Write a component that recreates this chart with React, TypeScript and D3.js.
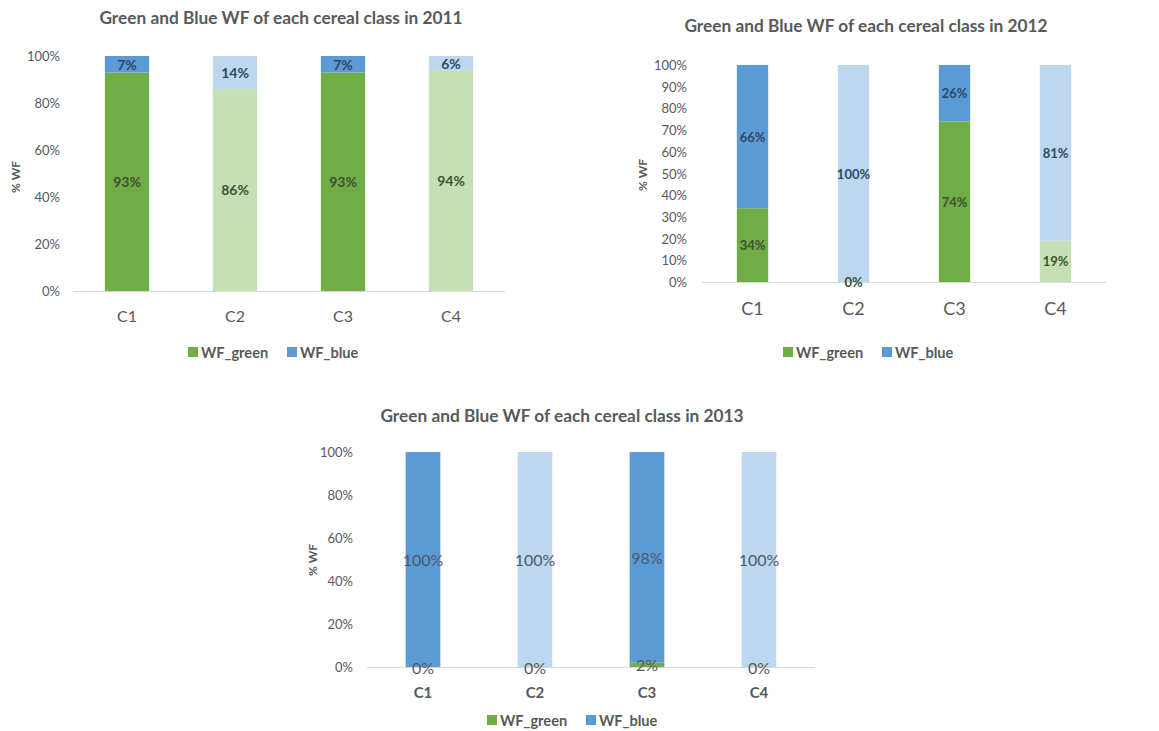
import React from "react";
import * as d3 from "d3";

// Cereal classes and water-footprint shares (percent) per year
const classes = ["C1", "C2", "C3", "C4"];
const green2011 = [93, 86, 93, 94];
const blue2011 = [7, 14, 7, 6];
const green2012 = [34, 0, 74, 19];
const blue2012 = [66, 100, 26, 81];
const green2013 = [0, 0, 2, 0];
const blue2013 = [100, 100, 98, 100];
const yTicks2011 = [0, 20, 40, 60, 80, 100];
const yTicks2012 = [0, 10, 20, 30, 40, 50, 60, 70, 80, 90, 100];
const yTicks2013 = [0, 20, 40, 60, 80, 100];
const seriesNames = ["WF_green", "WF_blue"];

const FONT = "Lato, 'Open Sans', sans-serif";
const TEXT = "#595959";
const GREEN_DARK = "#70AD47";
const GREEN_LIGHT = "#C5E0B4";
const BLUE_DARK = "#5B9BD5";
const BLUE_LIGHT = "#BDD7EE";
// odd classes use the darker shade, even ones the lighter
const greenShade = (i: number) => (i % 2 === 0 ? GREEN_DARK : GREEN_LIGHT);
const blueShade = (i: number) => (i % 2 === 0 ? BLUE_DARK : BLUE_LIGHT);

type Layout = {
  title: string;
  titleX: number;
  titleY: number;
  x0: number;
  x1: number;
  yTop: number;
  yBottom: number;
  padding: number;
  tickRight: number;
  xLabelY: number;
  xLabelSize: number;
  xLabelWeight: number;
  xLabelColor: string;
  legendX: number;
  legendY: number;
  yTitleX: number;
  yTitleY: number;
  labelSize: number;
  labelWeight: number;
  plainLabels: boolean;
};

function StackedChart({
  green,
  blue,
  ticks,
  L,
}: {
  green: number[];
  blue: number[];
  ticks: number[];
  L: Layout;
}) {
  const x = d3.scaleBand<string>().domain(classes).range([L.x0, L.x1]).paddingInner(L.padding).paddingOuter(L.padding / 2);
  const y = d3.scaleLinear().domain([0, 100]).range([L.yBottom, L.yTop]);
  const bw = x.bandwidth();
  const greenLabel = L.plainLabels ? "#595959" : "#3E5230";
  const blueLabel = L.plainLabels ? "#4a5a6a" : "#2E4766";

  return (
    <g>
      <text x={L.titleX} y={L.titleY} textAnchor="middle" dominantBaseline="central" fontFamily={FONT} fontWeight={700} fontSize={17.3} fill={TEXT}>
        {L.title}
      </text>
      {ticks.map((t) => (
        <text key={t} x={L.tickRight} y={y(t)} textAnchor="end" dominantBaseline="central" fontFamily={FONT} fontSize={13} fill={TEXT}>
          {t}%
        </text>
      ))}
      <text
        transform={`translate(${L.yTitleX},${L.yTitleY}) rotate(-90)`}
        textAnchor="middle"
        dominantBaseline="central"
        fontFamily={FONT}
        fontWeight={700}
        fontSize={12}
        fill={TEXT}
      >
        % WF
      </text>
      {classes.map((c, i) => {
        const bx = x(c) as number;
        const g = green[i];
        const b = blue[i];
        return (
          <g key={c}>
            <rect x={bx} y={y(g)} width={bw} height={y(0) - y(g)} fill={greenShade(i)} />
            <rect x={bx} y={y(g + b)} width={bw} height={y(g) - y(g + b)} fill={blueShade(i)} />
          </g>
        );
      })}
      <line x1={L.x0} x2={L.x1} y1={L.yBottom + 0.5} y2={L.yBottom + 0.5} stroke="#D9D9D9" strokeWidth={1.2} />
      {classes.map((c, i) => {
        const cx = (x(c) as number) + bw / 2;
        const g = green[i];
        const b = blue[i];
        const showGreen = g > 0 || L.plainLabels || b === 100;
        return (
          <g key={c} fontFamily={FONT} fontSize={L.labelSize} fontWeight={L.labelWeight} textAnchor="middle" dominantBaseline="central">
            {showGreen && (
              <text x={cx} y={y(g / 2)} fill={greenLabel}>
                {g}%
              </text>
            )}
            <text x={cx} y={y(g + b / 2)} fill={blueLabel}>
              {b}%
            </text>
            <text
              x={cx}
              y={L.xLabelY}
              fill={L.xLabelColor}
              fontSize={L.xLabelSize}
              fontWeight={L.xLabelWeight}
            >
              {c}
            </text>
          </g>
        );
      })}
      <g fontFamily={FONT} fontSize={14.6} fontWeight={700} fill={TEXT}>
        <rect x={L.legendX} y={L.legendY - 5} width={10} height={10} fill={GREEN_DARK} />
        <text x={L.legendX + 13} y={L.legendY} dominantBaseline="central">
          {seriesNames[0]}
        </text>
        <rect x={L.legendX + 99} y={L.legendY - 5} width={10} height={10} fill={BLUE_DARK} />
        <text x={L.legendX + 112} y={L.legendY} dominantBaseline="central">
          {seriesNames[1]}
        </text>
      </g>
    </g>
  );
}

const layout2011: Layout = {
  title: "Green and Blue WF of each cereal class in 2011",
  titleX: 281, titleY: 17,
  x0: 73, x1: 505, yTop: 56, yBottom: 291, padding: 0.59,
  tickRight: 60, xLabelY: 315, xLabelSize: 16, xLabelWeight: 400, xLabelColor: TEXT,
  legendX: 188, legendY: 352, yTitleX: 15, yTitleY: 177,
  labelSize: 14, labelWeight: 700, plainLabels: false,
};

const layout2012: Layout = {
  title: "Green and Blue WF of each cereal class in 2012",
  titleX: 866, titleY: 25,
  x0: 702, x1: 1106, yTop: 65, yBottom: 282, padding: 0.69,
  tickRight: 687, xLabelY: 308, xLabelSize: 18, xLabelWeight: 400, xLabelColor: TEXT,
  legendX: 783, legendY: 352, yTitleX: 642, yTitleY: 175,
  labelSize: 13, labelWeight: 700, plainLabels: false,
};

const layout2013: Layout = {
  title: "Green and Blue WF of each cereal class in 2013",
  titleX: 562, titleY: 415,
  x0: 367, x1: 815, yTop: 452, yBottom: 667, padding: 0.69,
  tickRight: 353, xLabelY: 692, xLabelSize: 15, xLabelWeight: 700, xLabelColor: TEXT,
  legendX: 487, legendY: 720, yTitleX: 312, yTitleY: 560,
  labelSize: 16, labelWeight: 400, plainLabels: true,
};

export default function App() {
  return (
    <svg width={1159} height={731} style={{ position: "absolute", left: 0, top: 0, background: "#fff" }}>
      <rect width={1159} height={731} fill="#fff" />
      <StackedChart green={green2011} blue={blue2011} ticks={yTicks2011} L={layout2011} />
      <StackedChart green={green2012} blue={blue2012} ticks={yTicks2012} L={layout2012} />
      <StackedChart green={green2013} blue={blue2013} ticks={yTicks2013} L={layout2013} />
    </svg>
  );
}
